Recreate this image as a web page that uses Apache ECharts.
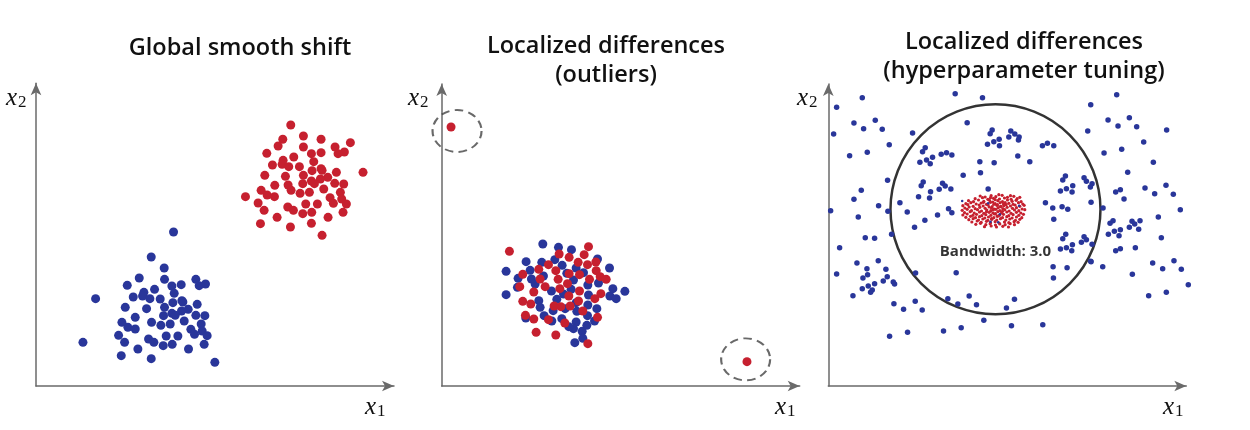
<!DOCTYPE html>
<html>
<head>
<meta charset="utf-8">
<script src="https://cdn.jsdelivr.net/npm/echarts@6/dist/echarts.min.js"></script>
<style>
  html, body { margin: 0; padding: 0; background: #fff; }
  #chart { width: 1250px; height: 430px; }
</style>
</head>
<body>
<div id="chart"></div>
<script>
// values are in each panel's own (x1, x2) units

// panel 1: global smooth shift
const shiftRed = [
  [765,783],[803,750],[856,740],[741,740],[727,720],[803,717],[898,717],[944,730],[926,702],[907,697],
  [693,698],[827,697],[856,700],[774,687],[742,677],[834,673],[710,663],[739,665],[759,658],[791,658],
  [829,646],[856,652],[859,647],[902,641],[982,641],[687,632],[749,629],[803,632],[876,626],[854,621],
  [827,615],[836,607],[897,608],[924,606],[717,602],[757,603],[801,607],[766,587],[864,591],[676,587],
  [694,573],[716,568],[793,578],[821,581],[914,581],[629,568],[883,565],[918,561],[667,549],[810,546],
  [845,546],[893,548],[932,546],[756,537],[773,527],[685,527],[828,521],[801,517],[922,521],[724,506],
  [877,506],[674,487],[827,488],[764,477],[859,452]
];
const shiftBlue = [
  [413,462],[346,387],[385,354],[310,324],[386,320],[480,320],[274,302],[408,300],[436,304],[490,301],
  [509,306],[356,290],[324,281],[415,278],[179,262],[292,267],[320,270],[342,262],[373,261],[438,256],
  [411,250],[441,252],[484,245],[268,236],[332,232],[386,236],[457,230],[437,225],[408,218],[418,212],
  [383,211],[480,212],[507,211],[298,206],[258,191],[347,191],[445,195],[375,182],[403,186],[496,186],
  [276,176],[298,171],[465,170],[499,165],[476,155],[514,151],[248,152],[391,150],[426,150],[338,141],
  [354,131],[266,131],[141,131],[382,121],[409,125],[505,125],[306,111],[458,111],[256,91],[346,82],
  [537,71]
];

// panel 2: outliers
const outlierRed = [
  [203,404],[440,418],[352,396],[382,386],[427,394],[409,371],[320,364],[291,350],[462,372],[437,364],
  [243,335],[342,346],[382,337],[413,334],[463,346],[475,328],[493,320],[295,321],[349,320],[443,320],
  [234,298],[310,298],[377,307],[276,282],[354,292],[413,285],[477,277],[459,262],[243,254],[267,246],
  [337,240],[357,238],[385,240],[410,255],[423,225],[381,270],[251,212],[276,201],[320,199],[369,189],
  [467,206],[283,161],[342,153],[438,127],
  [28,777],[915,73]
];
const outlierBlue = [
  [303,426],[350,416],[389,409],[339,379],[253,373],[300,371],[361,362],[403,354],[467,381],[503,354],
  [193,344],[229,323],[265,347],[269,321],[305,330],[375,338],[395,318],[425,340],[438,303],[470,309],
  [227,296],[280,306],[329,285],[365,276],[388,290],[440,273],[504,270],[513,292],[523,262],[549,284],
  [193,274],[291,256],[345,260],[403,250],[438,243],[465,232],[295,236],[334,226],[370,232],[405,224],
  [437,211],[307,211],[360,202],[403,192],[252,204],[330,195],[435,182],[395,172],[458,195],[421,164],
  [399,130],[423,143],[381,178]
];
const outlierRings = [[46,765],[911,80]];

// panel 3: hyperparameter tuning
const tuneBlue = [
  [381,877],[463,865],[866,874],[102,865],[25,836],[788,844],[417,790],[840,798],[904,805],[870,780],
  [926,778],[1016,768],[77,789],[106,772],[141,797],[162,770],[16,756],[253,759],[779,765],[183,724],
  [947,732],[64,691],[117,701],[881,710],[828,699],[976,671],[899,641],[1014,602],[1036,575],[951,594],
  [980,577],[863,582],[877,589],[888,561],[1057,529],[991,507],[1000,445],[974,369],[1004,352],[1038,376],
  [1060,350],[1081,304],[962,271],[1015,281],[913,335],[824,358],[788,374],[922,415],[863,406],[877,412],
  [841,455],[859,464],[873,451],[877,469],[846,488],[855,496],[904,476],[912,494],[920,486],[936,496],
  [932,470],[789,551],[825,534],
  [492,768],[486,757],[548,765],[542,747],[560,756],[573,747],[571,738],[513,740],[497,733],[478,725],
  [514,721],[643,721],[658,728],[677,721],[569,690],[605,673],[455,673],[498,670],[291,715],[283,703],
  [275,671],[295,678],[313,686],[306,667],[339,695],[355,700],[371,693],[405,632],[457,640],[712,630],
  [704,618],[768,625],[775,614],[792,607],[787,597],[734,601],[715,592],[697,585],[732,582],[285,612],
  [279,601],[307,583],[343,608],[351,600],[333,590],[368,591],[480,591],[271,568],[304,564],[215,550],
  [237,522],[361,532],[371,520],[328,513],[290,497],[259,476],[179,524],[151,541],[652,550],[674,534],
  [702,538],[719,530],[677,500],[713,455],[704,442],[768,448],[775,439],[760,431],[792,425],[733,424],
  [715,415],[697,411],[731,406],[675,358],[717,355],[676,324],[789,373],[384,340],[262,339],
  [190,455],[111,445],[139,443],[34,415],[150,376],[86,369],[25,336],[116,352],[173,350],[104,324],
  [118,334],[177,328],[195,312],[199,306],[139,307],[120,300],[102,292],[132,288],[127,281],[74,271],
  [165,315],[197,247],[226,230],[261,254],[282,228],[359,262],[389,246],[423,270],[445,244],[535,234],
  [559,260],[467,197],[550,181],[644,184],[399,175],[346,165],[238,161],[184,149],[7,526],[90,507],
  [99,587],[77,560],[178,617]
];
const tuneBlueInner = [[480,548],[515,515],[487,493],[510,491],[573,541],[402,555]];
const tuneRed = [
  [456,570],[471,567],[489,571],[503,568],[522,572],[538,566],[557,569],[512,574],[547,571],
  [441,562],[463,565],[479,560],[496,563],[514,561],[529,564],[549,560],[567,562],[487,565],[575,566],
  [421,556],[436,553],[451,558],[467,554],[484,557],[494,552],[509,556],[523,553],[538,558],[552,554],[564,557],[579,553],[501,559],[531,550],
  [413,547],[428,550],[444,546],[459,549],[475,545],[487,551],[501,547],[516,550],[526,546],[542,548],[555,545],[571,550],[584,546],[466,551],[508,544],
  [404,541],[419,544],[435,539],[453,543],[465,540],[480,543],[492,538],[506,542],[518,539],[534,544],[547,540],[561,543],[575,539],[588,542],[497,545],[527,541],
  [410,534],[423,537],[441,532],[455,536],[471,533],[483,537],[498,531],[510,535],[524,532],[537,536],[553,533],[565,535],[582,531],[490,534],[517,538],
  [402,527],[417,530],[430,526],[448,529],[460,525],[476,528],[488,526],[503,530],[515,526],[530,529],[543,525],[559,528],[572,526],[590,529],[495,528],[523,524],
  [409,520],[426,523],[438,519],[454,522],[467,518],[483,521],[494,519],[509,523],[520,519],[536,522],[549,518],[565,521],[578,519],[502,517],[475,523],
  [404,513],[417,516],[434,512],[445,515],[461,511],[473,514],[488,512],[499,516],[514,512],[526,515],[542,511],[555,514],[572,512],[586,515],[507,510],
  [413,506],[427,509],[442,505],[454,508],[470,504],[481,507],[497,505],[508,509],[523,505],[536,508],[552,504],[565,507],[581,505],[490,502],
  [422,499],[435,502],[451,498],[464,501],[479,497],[491,500],[506,498],[517,502],[533,498],[545,501],[562,497],[575,500],
  [431,492],[447,495],[459,491],[475,494],[487,490],[501,493],[513,489],[529,492],[542,490],[558,493],[570,491],
  [443,485],[457,488],[473,484],[486,487],[502,483],[515,486],[531,484],[546,487],[559,484],
  [469,478],[489,480],[505,477],[524,479],[541,477]
];
const bandwidthCircle = [[502,530]];

const titles = ["Global smooth shift", "Localized differences\n(outliers)", "Localized differences\n(hyperparameter tuning)"];
const bandwidthLabel = "Bandwidth: 3.0";

const RED = "#c6202f";
const BLUE = "#29369a";
const AXIS = "#6a6a6a";

const chart = echarts.init(document.getElementById("chart"));

// one grid per panel, origin at the axis corner
const panels = [
  { left: 36, top: 83.3, xMax: 1075, yMax: 908 },
  { left: 441.7, top: 84, xMax: 1073, yMax: 906 },
  { left: 828.3, top: 84, xMax: 1075, yMax: 906 },
];

const axisLine = {
  show: true,
  onZero: false,
  symbol: ["none", "arrow"],
  symbolSize: [8, 12],
  lineStyle: { color: AXIS, width: 1.5 },
};

function axis(max) {
  return {
    type: "value",
    min: 0,
    max: max,
    axisLine: axisLine,
    axisTick: { show: false },
    axisLabel: { show: false },
    splitLine: { show: false },
  };
}

function dots(data, idx, color, size) {
  return {
    type: "scatter",
    xAxisIndex: idx,
    yAxisIndex: idx,
    data: data,
    symbolSize: size,
    clip: false,
    silent: true,
    itemStyle: { color: color, opacity: 1 },
  };
}

function mathLabel(sub, x, y) {
  return {
    type: "text",
    x: x,
    y: y,
    style: {
      text: "{v|x}{s|" + sub + "}",
      align: "left",
      verticalAlign: "middle",
      fill: "#111",
      rich: {
        v: { fontFamily: "Liberation Serif", fontStyle: "italic", fontSize: 25, fill: "#111" },
        s: { fontFamily: "Liberation Serif", fontSize: 17, fill: "#111", padding: [9, 0, 0, 1] },
      },
    },
  };
}

function titleText(text, x, y) {
  return {
    type: "text",
    x: x,
    y: y,
    style: {
      text: text,
      align: "center",
      verticalAlign: "middle",
      font: '600 23.5px "Open Sans"',
      lineHeight: 29,
      fill: "#111",
    },
  };
}

const option = {
  animation: false,
  grid: panels.map((p) => ({
    left: p.left,
    top: p.top,
    width: 358,
    height: 386 - p.top,
    containLabel: false,
  })),
  xAxis: panels.map((p, i) => Object.assign({ gridIndex: i }, axis(p.xMax))),
  yAxis: panels.map((p, i) => Object.assign({ gridIndex: i }, axis(p.yMax))),
  series: [
    dots(shiftRed, 0, RED, 9),
    dots(shiftBlue, 0, BLUE, 9),
    dots(outlierBlue, 1, BLUE, 9),
    dots(outlierRed, 1, RED, 9),
    {
      type: "scatter",
      xAxisIndex: 1,
      yAxisIndex: 1,
      data: outlierRings,
      symbolSize: [49, 42],
      clip: false,
      silent: true,
      itemStyle: { color: "rgba(0,0,0,0)", borderColor: "#444", borderWidth: 2, borderType: [8, 5] },
    },
    dots(tuneBlue, 2, BLUE, 5.5),
    dots(tuneRed, 2, RED, 3.2),
    dots(tuneBlueInner, 2, BLUE, 2.5),
    {
      type: "scatter",
      xAxisIndex: 2,
      yAxisIndex: 2,
      data: bandwidthCircle,
      symbolSize: 210,
      clip: false,
      silent: true,
      z: 1,
      itemStyle: { color: "rgba(0,0,0,0)", borderColor: "#000", borderWidth: 2.5 },
      label: {
        show: true,
        position: "inside",
        offset: [0, 42],
        formatter: bandwidthLabel,
        fontFamily: "Open Sans",
        fontWeight: "bold",
        fontSize: 15,
        color: "#000",
      },
    },
  ],
  graphic: [
    titleText(titles[0], 240, 48),
    titleText(titles[1], 606, 61),
    titleText(titles[2], 1024, 57),
    mathLabel("2", 6, 98),
    mathLabel("1", 365, 407),
    mathLabel("2", 408, 98),
    mathLabel("1", 775, 407),
    mathLabel("2", 797, 98),
    mathLabel("1", 1163, 407),
  ],
};

chart.setOption(option);
</script>
</body>
</html>
